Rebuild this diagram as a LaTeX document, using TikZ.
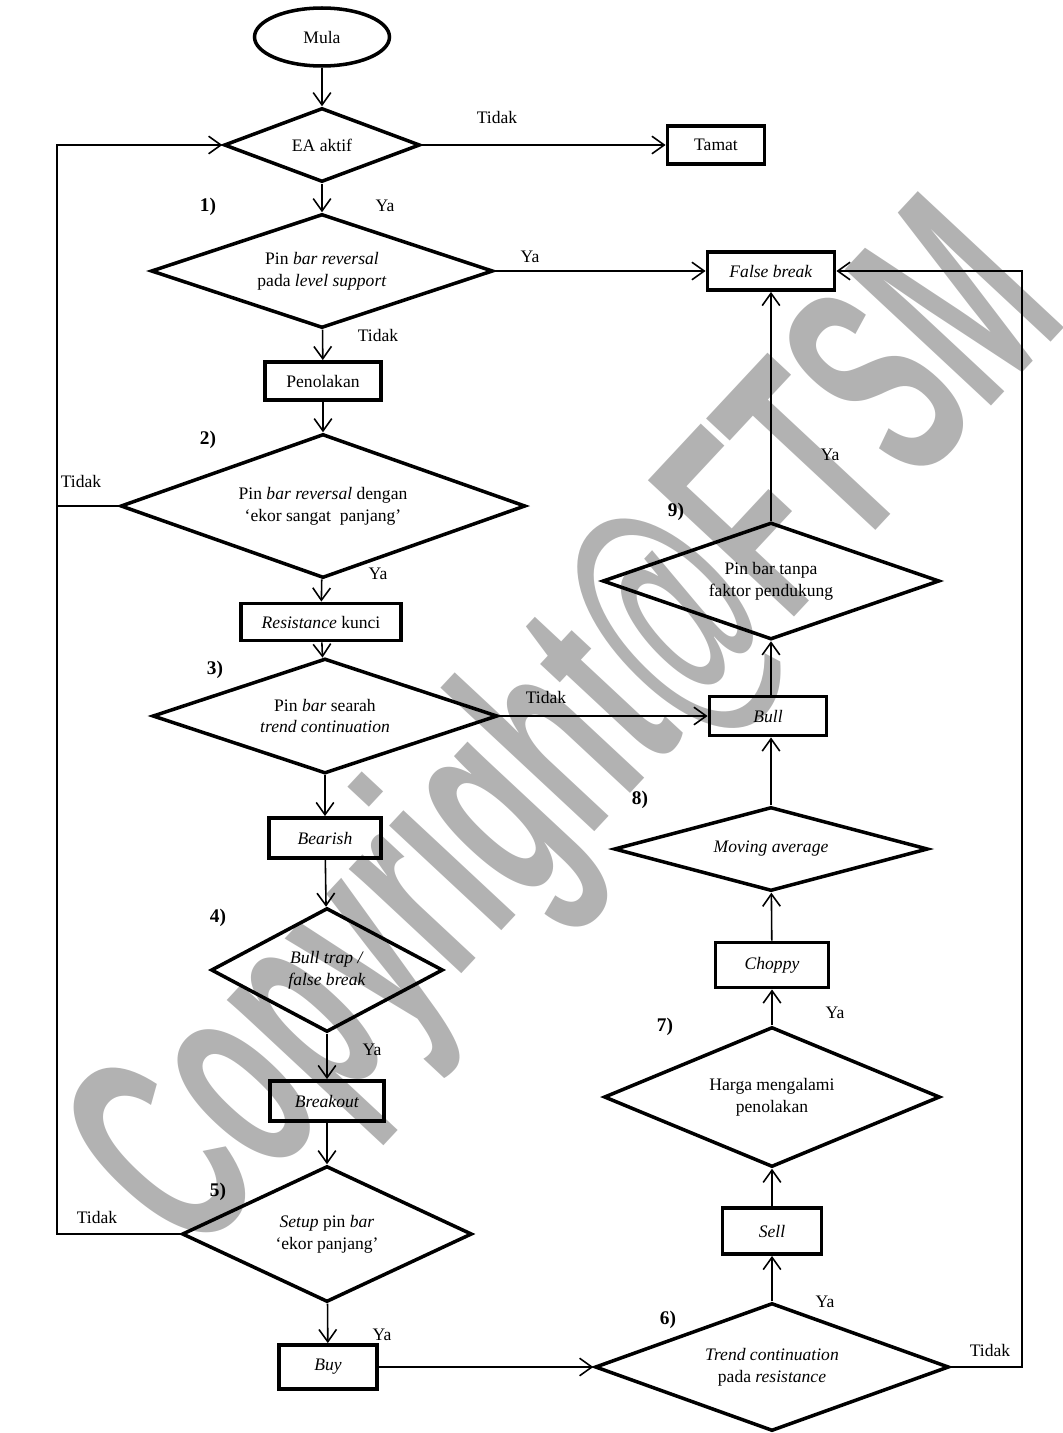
\documentclass[tikz,border=0pt]{standalone}
\usepackage{fontspec}
\setmainfont{Liberation Serif}
\setsansfont{Liberation Sans}
\usetikzlibrary{shapes.geometric, arrows.meta, positioning, calc}

\begin{document}
\begin{tikzpicture}[
    x=0.02cm, y=-0.02cm,  % <── one unit = one pixel of the page
    font=\fontsize{10}{12.5}\selectfont,
    start_node/.style={ellipse, draw, line width=2pt, inner sep=1pt},
    proc_node/.style={rectangle, draw, line width=2.2pt, inner sep=1pt},
    dec_node/.style={diamond, draw, line width=2pt, aspect=2, inner sep=1pt, align=center},
    line/.style={draw, line width=0.9pt, -{Straight Barb[length=7pt,width=10pt]}},
    ans_lbl/.style={inner sep=0pt},
    num_lbl/.style={inner sep=0pt, font=\fontsize{11}{13}\selectfont\bfseries}
    ]
    \useasboundingbox (0,0) rectangle (1062,1433);

    % Watermark (behind everything)
    \node[rotate=47, text=black!30, inner sep=0pt,
          font=\sffamily\bfseries\fontsize{87}{87}\selectfont] (wm) at (578,740)
        {\scalebox{1}[1.9]{Copyright@FTSM}};

    % Nodes: left column
    \node[start_node, minimum width=2.7cm, minimum height=1.16cm] (mula) at (322,37) {Mula};
    \node[dec_node, minimum width=3.92cm, minimum height=1.48cm] (ea) at (322,145) {EA aktif};
    \node[proc_node, minimum width=1.94cm, minimum height=0.76cm] (tamat) at (716,145) {Tamat};
    \node[dec_node, minimum width=6.84cm, minimum height=2.28cm] (d1) at (322,271)
        {Pin \textit{bar reversal}\\pada \textit{level support}};
    \node[proc_node, minimum width=2.32cm, minimum height=0.76cm] (tolak) at (323,381) {Penolakan};
    \node[dec_node, minimum width=8.1cm, minimum height=2.88cm] (d2) at (323,506)
        {Pin \textit{bar reversal} dengan\\`ekor sangat\ \ panjang'};
    \node[proc_node, minimum width=3.2cm, minimum height=0.74cm] (resist) at (321,622) {\textit{Resistance} kunci};
    \node[dec_node, minimum width=6.9cm, minimum height=2.3cm] (d3) at (325,716)
        {Pin \textit{bar} searah\\\textit{trend continuation}};
    \node[proc_node, minimum width=2.24cm, minimum height=0.8cm] (bearish) at (325,838) {\textit{Bearish}};
    \node[dec_node, minimum width=4.64cm, minimum height=2.48cm] (d4) at (327,970)
        {\textit{Bull trap /}\\\textit{false break}};
    \node[proc_node, minimum width=2.28cm, minimum height=0.8cm] (breakout) at (327,1101) {\textit{Breakout}};
    \node[dec_node, minimum width=5.8cm, minimum height=2.72cm] (d5) at (327,1234)
        {\textit{Setup} pin \textit{bar}\\`ekor panjang'};
    \node[proc_node, minimum width=1.96cm, minimum height=0.88cm] (buy) at (328,1367) {\textit{Buy}};

    % Nodes: right column
    \node[proc_node, minimum width=2.54cm, minimum height=0.76cm] (fb) at (771,271) {\textit{False break}};
    \node[dec_node, minimum width=6.74cm, minimum height=2.34cm] (d9) at (771,581)
        {Pin bar tanpa\\faktor pendukung};
    \node[proc_node, minimum width=2.34cm, minimum height=0.78cm] (bull) at (768,716) {\textit{Bull}};
    \node[dec_node, minimum width=6.28cm, minimum height=1.68cm] (d8) at (771,849) {\textit{Moving average}};
    \node[proc_node, minimum width=2.26cm, minimum height=0.9cm] (choppy) at (772,965) {\textit{Choppy}};
    \node[dec_node, minimum width=6.72cm, minimum height=2.8cm] (d7) at (772,1097)
        {Harga mengalami\\penolakan};
    \node[proc_node, minimum width=1.98cm, minimum height=0.92cm] (sell) at (772,1231) {\textit{Sell}};
    \node[dec_node, minimum width=7.08cm, minimum height=2.56cm] (d6) at (772,1367)
        {\textit{Trend continuation}\\pada \textit{resistance}};

    % Loop lines
    \coordinate (loopl) at (57,0);
    \coordinate (loopr) at (1022,0);

    % Arrows
    \draw[line] (mula) -- (ea);
    \draw[line] (ea) -- (tamat);
    \draw[line] (ea) -- (d1);
    \draw[line] (d1) -- (fb);
    \draw[line] (d1) -- (tolak);
    \draw[line] (tolak) -- (d2);
    \draw[line] (d2) -- (resist);
    \draw[line] (resist) -- (d3);
    \draw[line] (d3.east) -- (d3.east -| bull.west);
    \draw[line] (d3) -- (bearish);
    \draw[line] (bearish) -- (d4);
    \draw[line] (d4) -- (breakout);
    \draw[line] (breakout) -- (d5);
    \draw[line] (d5) -- (buy);
    \draw[line] (buy) -- (d6);
    \draw[line] (d6) -- (sell);
    \draw[line] (sell) -- (d7);
    \draw[line] (d7) -- (choppy);
    \draw[line] (choppy) -- (d8);
    \draw[line] (d8.north) -- (d8.north |- bull.south);
    \draw[line] (bull.north -| d9.south) -- (d9.south);
    \draw[line] (d9) -- (fb);
    \draw[line] (d5.west) -- (d5.west -| loopl) |- (ea.west);
    \draw[line width=0.9pt] (d2.west) -- (d2.west -| loopl);
    \draw[line] (d6.east) -- (d6.east -| loopr) |- (fb.east);

    % Answers and step numbers
    \node[ans_lbl] (t0) at (497,117) {Tidak};
    \node[ans_lbl] (y1) at (385,206) {Ya};
    \node[ans_lbl] (y1b) at (530,257) {Ya};
    \node[ans_lbl] (t1) at (378,335) {Tidak};
    \node[ans_lbl] (t2) at (81,481) {Tidak};
    \node[ans_lbl] (y2) at (378,574) {Ya};
    \node[ans_lbl] (t3) at (546,697) {Tidak};
    \node[ans_lbl] (y4) at (372,1050) {Ya};
    \node[ans_lbl] (t5) at (97,1217) {Tidak};
    \node[ans_lbl] (y5) at (382,1335) {Ya};
    \node[ans_lbl] (y6) at (825,1302) {Ya};
    \node[ans_lbl] (t6) at (990,1350) {Tidak};
    \node[ans_lbl] (y7) at (835,1013) {Ya};
    \node[ans_lbl] (y9) at (830,455) {Ya};
    \node[num_lbl] (n1) at (208,207) {1)};
    \node[num_lbl] (n2) at (208,440) {2)};
    \node[num_lbl] (n3) at (215,670) {3)};
    \node[num_lbl] (n4) at (218,918) {4)};
    \node[num_lbl] (n5) at (218,1192) {5)};
    \node[num_lbl] (n6) at (668,1320) {6)};
    \node[num_lbl] (n7) at (665,1027) {7)};
    \node[num_lbl] (n8) at (640,800) {8)};
    \node[num_lbl] (n9) at (676,512) {9)};
\end{tikzpicture}
\end{document}
